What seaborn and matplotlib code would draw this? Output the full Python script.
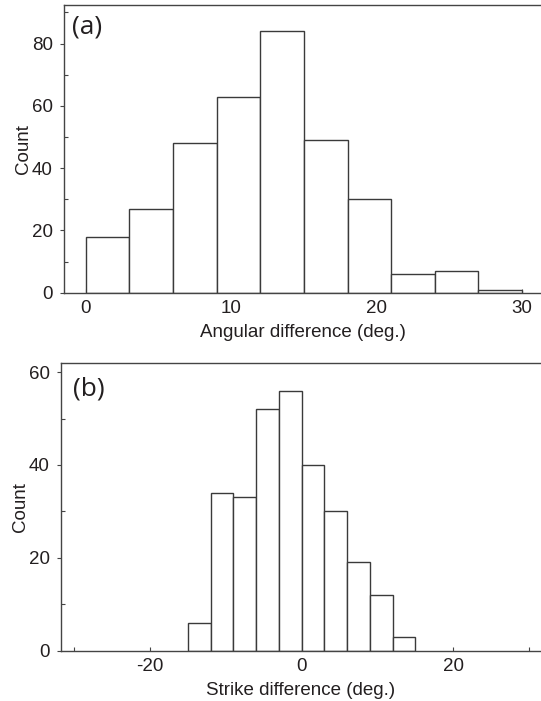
import numpy as np
import pandas as pd
import matplotlib
matplotlib.use("Agg")
import matplotlib.pyplot as plt
from matplotlib.ticker import MultipleLocator, FixedLocator
import seaborn as sns

# ---- data ----
ang_edges = [0, 3, 6, 9, 12, 15, 18, 21, 24, 27, 30]
ang_counts = [18, 27, 48, 63, 84, 49, 30, 6, 7, 1]

strike_edges = [-15, -12, -9, -6, -3, 0, 3, 6, 9, 12, 15]
strike_counts = [6, 34, 33, 52, 56, 40, 30, 19, 12, 3]

panel_labels = ["(a)", "(b)"]
xlabels = ["Angular difference (deg.)", "Strike difference (deg.)"]
ylabel = "Count"

sns.set_theme(style="white")
plt.rcParams["font.family"] = ["Liberation Sans", "DejaVu Sans"]
plt.rcParams["axes.unicode_minus"] = False

W, H = 541, 701
fig = plt.figure(figsize=(W / 100, H / 100), dpi=100)

def px_axes(left, top, right, bottom):
    return fig.add_axes([left / W, 1 - bottom / H, (right - left) / W, (bottom - top) / H])

ax1 = px_axes(64, 4.7, 541, 292.7)
ax2 = px_axes(60.7, 363.3, 541, 650.7)

text_col = "#231f20"
edge_col = "#3a3a3a"

def draw(ax, edges, counts):
    e = [float(v) for v in edges]
    centers = [(a + b) / 2 for a, b in zip(e[:-1], e[1:])]
    df = pd.DataFrame({"x": centers, "w": counts})
    sns.histplot(data=df, x="x", weights="w", bins=e, ax=ax,
                 color="white", edgecolor=edge_col, linewidth=1.0, alpha=1.0)

draw(ax1, ang_edges, ang_counts)
draw(ax2, strike_edges, strike_counts)

ax1.set_xlim(-1.49, 31.3)
ax1.set_ylim(0, 92.5)
ax2.set_xlim(-31.8, 31.6)
ax2.set_ylim(0, 61.9)

ax1.xaxis.set_major_locator(FixedLocator([0, 10, 20, 30]))
ax2.xaxis.set_major_locator(FixedLocator([-20, 0, 20]))
ax2.xaxis.set_minor_locator(FixedLocator([-30, -10, 10, 30]))
for ax in (ax1, ax2):
    ax.yaxis.set_major_locator(MultipleLocator(20))
    ax.yaxis.set_minor_locator(MultipleLocator(10))

fs = 13.5
label_pos = [(0.017, 0.965), (0.026, 0.955)]
for ax, lab, xl, pos in zip((ax1, ax2), panel_labels, xlabels, label_pos):
    for side in ("left", "bottom", "top"):
        ax.spines[side].set_visible(True)
        ax.spines[side].set_color("#444444")
        ax.spines[side].set_linewidth(1.0)
    ax.spines["right"].set_visible(False)
    ax.tick_params(axis="x", which="both", direction="in", length=3, width=0.8,
                   color="#444444", labelsize=fs, labelcolor=text_col, pad=5,
                   bottom=True, top=False)
    ax.tick_params(axis="y", which="major", direction="out", length=3, width=0.8,
                   color="#444444", labelsize=fs, labelcolor=text_col, pad=5, left=True)
    ax.tick_params(axis="y", which="minor", direction="in", length=3, width=0.8,
                   color="#444444", left=True)
    ax.set_xlabel(xl, fontsize=fs, color=text_col, labelpad=5)
    ax.set_ylabel(ylabel, fontsize=fs, color=text_col, labelpad=0)
    ax.text(pos[0], pos[1], lab, transform=ax.transAxes, ha="left", va="top",
            fontsize=19, color=text_col, family=["Open Sans", "DejaVu Sans"])

fig.savefig("out.png", dpi=100)
